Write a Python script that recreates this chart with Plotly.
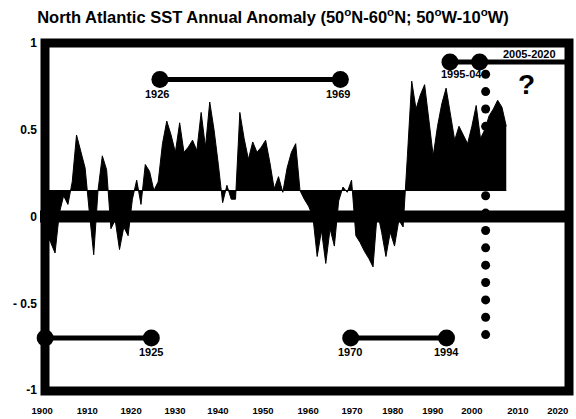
import plotly.graph_objects as go

# ---------------- data ----------------
years = list(range(1900, 2009))
anomaly = [
    -0.12, -0.10, -0.15, -0.21, 0.02, 0.12, 0.07, 0.20, 0.47, 0.38,   # 1900-1909
    0.28, 0.02, -0.22, 0.15, 0.35, 0.27, -0.07, -0.02, -0.19, -0.06,  # 1910-1919
    -0.11, 0.10, 0.21, 0.07, 0.30, 0.26, 0.15, 0.20, 0.42, 0.55,      # 1920-1929
    0.47, 0.37, 0.54, 0.37, 0.40, 0.44, 0.38, 0.60, 0.40, 0.66,       # 1930-1939
    0.50, 0.30, 0.08, 0.18, 0.10, 0.10, 0.60, 0.45, 0.33, 0.43,       # 1940-1949
    0.37, 0.40, 0.44, 0.31, 0.16, 0.23, 0.14, 0.28, 0.37, 0.42,       # 1950-1959
    0.15, 0.10, 0.06, 0.00, -0.23, -0.08, -0.27, -0.07, -0.17, 0.09,  # 1960-1969
    0.17, 0.14, 0.21, -0.11, -0.15, -0.20, -0.24, -0.29, 0.03, -0.09, # 1970-1979
    -0.23, -0.09, -0.17, -0.02, -0.06, 0.35, 0.78, 0.62, 0.70, 0.76,  # 1980-1989
    0.55, 0.35, 0.52, 0.65, 0.74, 0.60, 0.44, 0.52, 0.47, 0.42,       # 1990-1999
    0.52, 0.64, 0.45, 0.50, 0.58, 0.62, 0.67, 0.63, 0.52,             # 2000-2008
]
baseline_level = 0.15

x_tick_labels = ["1900", "1910", "1920", "1930", "1940", "1950", "1960",
                 "1970", "1980", "1990", "2000", "2010", "2020"]
x_tick_pos = [1900.0, 1910.5, 1920.7, 1930.9, 1940.9, 1951.4, 1961.9,
              1972.1, 1981.6, 1990.9, 2000.0, 2010.7, 2020.0]
y_tick_vals = [-1, -0.5, 0, 0.5, 1]
y_tick_text = ["-1", "- 0.5", "0", "0.5", "1"]

# period markers (annotations drawn on the chart)
period_top_x = [1927.4, 1969.4]
period_top_y = 0.79
period_bl_x = [1900.7, 1925.4]
period_br_x = [1971.8, 1994.1]
period_bottom_y = -0.70
period_tr_x = [1994.9, 2001.8]
period_tr_end_x = 2022.8
period_tr_y = 0.89
dots_x = 2003.2
dots_y = [0.82, 0.72, 0.62, 0.52, 0.42, 0.32, 0.22, 0.12, 0.02,
          -0.08, -0.18, -0.28, -0.38, -0.48, -0.58, -0.68]

labels = [
    ("1926", 1926.7, 0.706, 11),
    ("1969", 1968.8, 0.706, 11),
    ("1925", 1925.3, -0.78, 11),
    ("1970", 1971.6, -0.78, 11),
    ("1994", 1994.2, -0.78, 11),
    ("1995-04", 1997.6, 0.82, 11),
    ("2005-2020", 2013.5, 0.937, 11),
]

FONT = "Liberation Sans, Arial, sans-serif"

fig = go.Figure()

# baseline for the filled anomaly
fig.add_trace(go.Scatter(x=years, y=[baseline_level] * len(years), mode="lines",
                         line=dict(color="black", width=1), hoverinfo="skip",
                         showlegend=False))
fig.add_trace(go.Scatter(x=years, y=anomaly, mode="lines", fill="tonexty",
                         fillcolor="black", line=dict(color="black", width=1),
                         showlegend=False))

seg_style = dict(mode="lines+markers", line=dict(color="black", width=5),
                 marker=dict(color="black", size=17), showlegend=False,
                 cliponaxis=False, hoverinfo="skip")
fig.add_trace(go.Scatter(x=period_top_x, y=[period_top_y] * 2, **seg_style))
fig.add_trace(go.Scatter(x=period_bl_x, y=[period_bottom_y] * 2, **seg_style))
fig.add_trace(go.Scatter(x=period_br_x, y=[period_bottom_y] * 2, **seg_style))
fig.add_trace(go.Scatter(x=period_tr_x + [period_tr_end_x], y=[period_tr_y] * 3, **seg_style))
fig.add_trace(go.Scatter(x=[dots_x] * len(dots_y), y=dots_y, mode="markers",
                         marker=dict(color="black", size=9), showlegend=False,
                         cliponaxis=False, hoverinfo="skip"))

for text, x, y, size in labels:
    fig.add_annotation(x=x, y=y, xref="x", yref="y", text=f"<b>{text}</b>",
                       showarrow=False, font=dict(family=FONT, size=size, color="black"))
fig.add_annotation(x=2012.8, y=0.763, xref="x", yref="y", text="<b>?</b>",
                   showarrow=False, font=dict(family=FONT, size=28, color="black"))

# thick zero line and thick frame
fig.add_shape(type="line", xref="paper", yref="y", x0=0.0, x1=1.0, y0=0, y1=0,
              line=dict(color="black", width=12), layer="above")
fig.add_shape(type="rect", xref="paper", yref="paper", x0=5 / 529, x1=1.0, y0=0, y1=1,
              line=dict(color="black", width=9), layer="above")

fig.update_layout(
    width=576, height=419,
    margin=dict(l=40, r=7, t=43, b=28, autoexpand=False),
    paper_bgcolor="white", plot_bgcolor="white",
    title=dict(text="<b>North Atlantic SST Annual Anomaly (50<sup>o</sup>N-60<sup>o</sup>N; "
                    "50<sup>o</sup>W-10<sup>o</sup>W)</b>",
               x=273 / 576, xref="container", xanchor="center",
               y=1 - 17 / 419, yref="container", yanchor="middle",
               font=dict(family=FONT, size=16.5, color="black")),
    xaxis=dict(range=[1899.5, 2022.6], showgrid=False, zeroline=False, showline=False,
               automargin=False,
               tickvals=x_tick_pos, ticktext=[f"<b>{t}</b>" for t in x_tick_labels],
               ticks="", tickfont=dict(family=FONT, size=9.5, color="black"),
               ticklabelstandoff=12),
    yaxis=dict(range=[-1.005, 1.0], showgrid=False, zeroline=False, showline=False,
               automargin=False,
               tickvals=y_tick_vals, ticktext=[f"<b>{t}</b>" for t in y_tick_text],
               ticks="", tickfont=dict(family=FONT, size=12, color="black"),
               ticklabelstandoff=2),
    showlegend=False,
)

fig.write_html("out.html", config={"displayModeBar": False},
               post_script="document.body.style.margin='0';document.body.style.overflow='hidden';")
